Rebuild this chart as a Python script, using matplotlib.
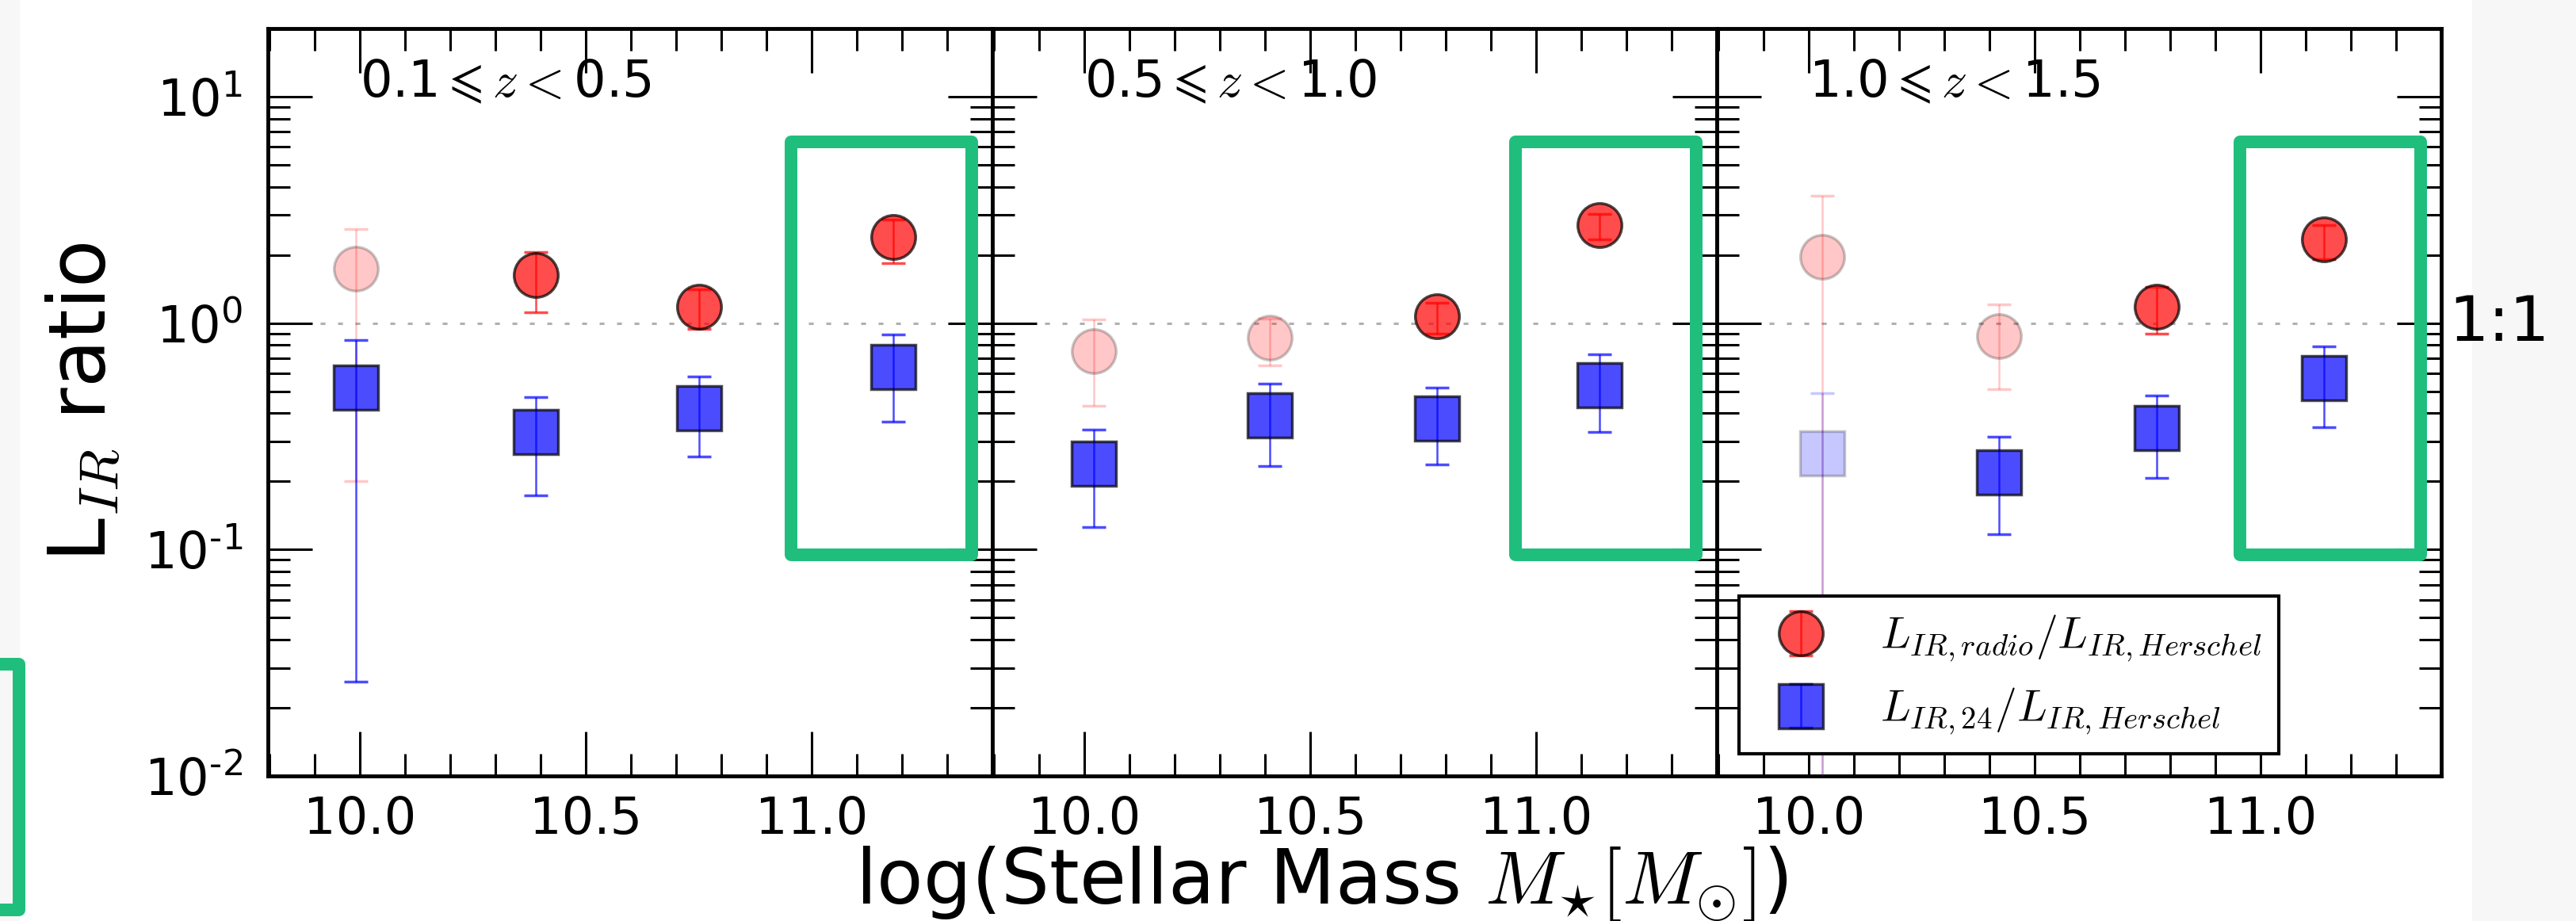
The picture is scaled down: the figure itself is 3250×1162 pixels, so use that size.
import matplotlib
matplotlib.use('Agg')
import matplotlib.pyplot as plt
import numpy as np
from matplotlib.patches import Rectangle
from matplotlib.ticker import FixedLocator, MultipleLocator, FormatStrFormatter, LogLocator, FuncFormatter

plt.rcParams['font.family'] = 'DejaVu Sans'
plt.rcParams['mathtext.fontset'] = 'cm'
plt.rcParams['axes.unicode_minus'] = False

# redshift bins (one panel each)
z_labels = [r'0.1$\leqslant z<$0.5', r'0.5$\leqslant z<$1.0', r'1.0$\leqslant z<$1.5']

# stellar mass bin centres, per panel
mass = [[9.99, 10.39, 10.75, 11.18],
        [10.02, 10.41, 10.78, 11.14],
        [10.03, 10.42, 10.77, 11.14]]

# L_IR,radio / L_IR,Herschel : value, lower and upper end of error bar
radio = [[1.74, 1.63, 1.18, 2.40], [0.75, 0.86, 1.07, 2.72], [1.97, 0.88, 1.18, 2.34]]
radio_lo = [[0.20, 1.12, 0.94, 1.84], [0.43, 0.65, 0.90, 2.35], [0.001, 0.51, 0.90, 1.92]]
radio_hi = [[2.60, 2.06, 1.41, 2.87], [1.04, 1.05, 1.23, 3.04], [3.65, 1.21, 1.45, 2.70]]
radio_faded = [[True, False, False, False], [True, True, False, False], [True, True, False, False]]

# L_IR,24 / L_IR,Herschel
mips = [[0.52, 0.33, 0.42, 0.64], [0.24, 0.39, 0.38, 0.53], [0.265, 0.22, 0.345, 0.57]]
mips_lo = [[0.026, 0.173, 0.258, 0.367], [0.126, 0.233, 0.238, 0.331], [0.001, 0.117, 0.207, 0.347]]
mips_hi = [[0.84, 0.47, 0.58, 0.89], [0.34, 0.54, 0.52, 0.73], [0.49, 0.315, 0.48, 0.79]]
mips_faded = [[False] * 4, [False] * 4, [True, False, False, False]]

legend_labels = [r'$L_{IR, radio}/L_{IR, Herschel}$', r'$L_{IR, 24}/L_{IR, Herschel}$']

green = '#1fbe7c'


def draw(ax, x, y, lo, hi, faded, color, marker):
    x = np.array(x)
    y = np.array(y)
    lo = np.array(lo)
    hi = np.array(hi)
    f = np.array(faded)
    err = np.vstack([y - lo, hi - y])
    handle = None
    for mask, a in ((~f, 0.7), (f, 0.22)):
        if mask.any():
            c = ax.errorbar(x[mask], y[mask], yerr=err[:, mask], fmt=marker, color=color,
                            ecolor=color, ms=40, mec='k', mew=2.5, alpha=a, capsize=11,
                            elinewidth=1.8, capthick=1.8, zorder=3)
            if a == 0.7:
                handle = c
    return handle


def decade(v, pos):
    # short hyphen in the exponent, as in the original figure
    e = int(round(np.log10(v)))
    return r'$\mathdefault{10^{%s}}$' % str(e).replace('-', '\u2010')


fig = plt.figure(figsize=(32.5, 11.62), dpi=100)
axes = fig.subplots(1, 3, sharey=True)
fig.subplots_adjust(left=0.104, right=0.9477, top=0.969, bottom=0.1575, wspace=0)

for i, ax in enumerate(axes):
    ax.set_yscale('log')
    ax.set_ylim(0.01, 20)
    ax.set_xlim(9.796, 11.40)
    ax.axhline(1, color='#b0b0b0', lw=2.2, dashes=(2, 5.2), zorder=1)

    h_r = draw(ax, mass[i], radio[i], radio_lo[i], radio_hi[i], radio_faded[i], 'r', 'o')
    h_b = draw(ax, mass[i], mips[i], mips_lo[i], mips_hi[i], mips_faded[i], 'b', 's')

    ax.text(10.0, 10, z_labels[i], fontsize=46, ha='left', va='baseline')

    ax.xaxis.set_major_locator(FixedLocator([10.0, 10.5, 11.0]))
    ax.xaxis.set_major_formatter(FormatStrFormatter('%.1f'))
    ax.xaxis.set_minor_locator(MultipleLocator(0.1))
    ax.yaxis.set_major_locator(LogLocator(base=10, numticks=10))
    ax.yaxis.set_minor_locator(LogLocator(base=10, subs=np.arange(2, 10), numticks=10))
    ax.yaxis.set_major_formatter(FuncFormatter(decade))

    ax.tick_params(which='both', direction='in', top=True, right=True, labelsize=46)
    ax.tick_params(axis='x', which='major', pad=17)
    ax.tick_params(axis='y', which='major', pad=23)
    ax.tick_params(which='major', length=40, width=2.2)
    ax.tick_params(which='minor', length=20, width=2.2)
    for sp in ax.spines.values():
        sp.set_linewidth(3.5)

    # hand-drawn highlight box
    ax.add_patch(Rectangle((10.955, 0.095), 0.40, 6.3 - 0.095, fill=False, ec=green, lw=11.5,
                           joinstyle='round', zorder=6))

    if i == 2:
        leg = ax.legend([h_r, h_b], legend_labels, loc='lower left', fontsize=40, numpoints=1,
                        fancybox=False, edgecolor='k', framealpha=1)
        leg.get_frame().set_linewidth(3)
        ax.text(1.01, 1, '1:1', transform=ax.get_yaxis_transform(), fontsize=57,
                ha='left', va='center', clip_on=False)

axes[0].set_ylabel('L$_{IR}$ ratio', fontsize=71)
axes[0].yaxis.set_label_coords(-0.2, 0.5)

fig.text(0.513, 0.019, r'log(Stellar Mass $M_{\star}[M_{\odot}]$)', fontsize=69,
         ha='center', va='baseline')

# light grey strips at the sides of the picture
fig.add_artist(Rectangle((0, 0), 24 / 3250, 1, transform=fig.transFigure, color='#f7f7f7', zorder=-1))
fig.add_artist(Rectangle((3119 / 3250, 0), 1, 1, transform=fig.transFigure, color='#f7f7f7', zorder=-1))
# partial hand-drawn box at the left edge
fig.add_artist(Rectangle((-0.02, 0.012), 0.0274, 0.2668, transform=fig.transFigure, fill=False,
                         ec=green, lw=11.5, joinstyle='round', clip_on=False, zorder=10))

fig.savefig('out.png', dpi=100)
